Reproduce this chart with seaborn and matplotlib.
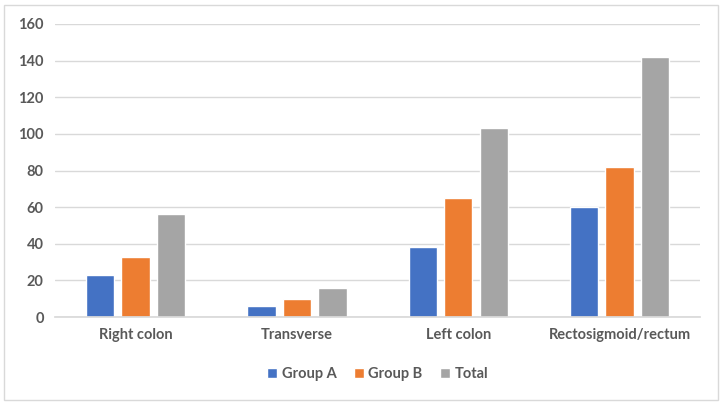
import pandas as pd
import matplotlib.pyplot as plt
import seaborn as sns
from matplotlib.patches import Rectangle

categories = ["Right colon", "Transverse", "Left colon", "Rectosigmoid/rectum"]
group_a = [23, 6, 38, 60]
group_b = [33, 10, 65, 82]
total = [56, 16, 103, 142]
series_names = ["Group A", "Group B", "Total"]
colors = ["#4472C4", "#ED7D31", "#A5A5A5"]

df = pd.DataFrame({
    "site": categories * 3,
    "series": [s for s in series_names for _ in categories],
    "count": group_a + group_b + total,
})

sns.set_theme(style="white")
plt.rcParams['font.family'] = ['Lato', 'DejaVu Sans']

fig = plt.figure(figsize=(7.22, 4.05), dpi=100)
ax = fig.add_axes([0.076, 0.217, 0.894, 0.724])

sns.barplot(data=df, x="site", y="count", hue="series", order=categories,
            hue_order=series_names, palette=colors, width=0.66, gap=0.2,
            saturation=1, ax=ax, legend=True)

ax.set_ylim(0, 160)
ax.set_yticks(range(0, 161, 20))
ax.set_xlim(-0.5, 3.5)
ax.yaxis.grid(True, color="#D9D9D9", linewidth=1)
ax.set_axisbelow(True)
for s in ["top", "right", "left"]:
    ax.spines[s].set_visible(False)
ax.spines["bottom"].set_color("#D9D9D9")
ax.set_xlabel("")
ax.set_ylabel("")
ax.tick_params(axis="both", length=0, labelsize=10.5, labelcolor="#595959", pad=8)
for lab in ax.get_xticklabels() + ax.get_yticklabels():
    lab.set_fontweight("bold")

leg = ax.legend(loc="center", bbox_to_anchor=(0.5, -0.195), ncol=3, frameon=False,
                handlelength=0.7, handleheight=0.7, handletextpad=0.3, columnspacing=1.2,
                prop={"weight": "bold", "size": 10.5})
for t in leg.get_texts():
    t.set_color("#595959")

fig.patches.append(Rectangle((0.006, 0.012), 0.988, 0.976, transform=fig.transFigure,
                             fill=False, edgecolor="#D9D9D9", linewidth=1))

fig.savefig("out.png", dpi=100)
